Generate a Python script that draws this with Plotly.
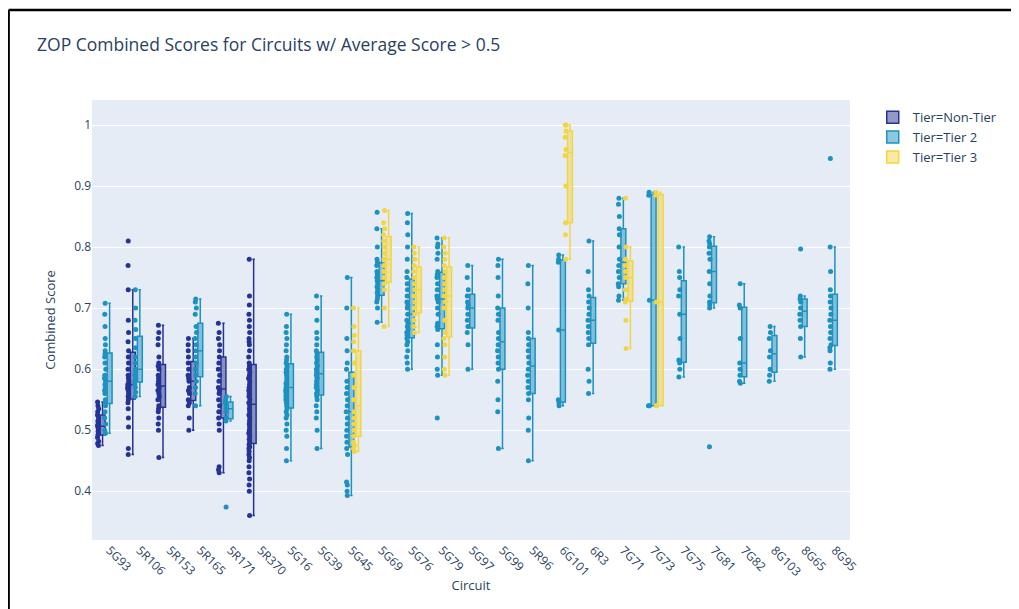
import plotly.graph_objects as go

circuits = ["5G93", "5R106", "5R153", "5R165", "5R171", "5R370", "5G16", "5G39", "5G45",
            "5G69", "5G76", "5G79", "5G97", "5G99", "5R96", "6G101", "6R3", "7G71", "7G73",
            "7G75", "7G81", "7G82", "8G103", "8G65", "8G95"]

tiers = ["Non-Tier", "Tier 2", "Tier 3"]
tier_colors = {"Non-Tier": "#253494", "Tier 2": "#1d91c0", "Tier 3": "#f2d544"}

non_tier = {
    "5G93": [0.475, 0.478, 0.482, 0.488, 0.492, 0.495, 0.498, 0.502, 0.505, 0.508, 0.512, 0.515,
             0.52, 0.525, 0.53, 0.535, 0.54, 0.546],
    "5R106": [0.46, 0.47, 0.505, 0.52, 0.535, 0.545, 0.55, 0.555, 0.56, 0.565, 0.568, 0.57, 0.572,
              0.575, 0.58, 0.585, 0.59, 0.6, 0.61, 0.62, 0.63, 0.645, 0.66, 0.68, 0.73, 0.77, 0.81],
    "5R153": [0.455, 0.5, 0.51, 0.52, 0.53, 0.535, 0.54, 0.55, 0.555, 0.56, 0.565, 0.57, 0.575,
              0.58, 0.585, 0.59, 0.6, 0.605, 0.61, 0.62, 0.64, 0.65, 0.66, 0.672],
    "5R165": [0.5, 0.52, 0.54, 0.545, 0.55, 0.56, 0.565, 0.57, 0.58, 0.585, 0.59, 0.6, 0.61, 0.62,
              0.63, 0.64, 0.65],
    "5R171": [0.43, 0.435, 0.44, 0.5, 0.51, 0.52, 0.53, 0.54, 0.55, 0.56, 0.565, 0.57, 0.58, 0.59,
              0.6, 0.61, 0.62, 0.63, 0.64, 0.65, 0.66, 0.675],
    "5R370": [0.36, 0.40, 0.41, 0.42, 0.43, 0.44, 0.45, 0.455, 0.46, 0.465, 0.47, 0.473, 0.476,
              0.48, 0.485, 0.49, 0.495, 0.5, 0.505, 0.51, 0.515, 0.52, 0.525, 0.53, 0.535, 0.54,
              0.545, 0.55, 0.555, 0.56, 0.565, 0.57, 0.575, 0.58, 0.585, 0.59, 0.595, 0.6, 0.605,
              0.61, 0.62, 0.63, 0.64, 0.645, 0.65, 0.66, 0.67, 0.68, 0.69, 0.705, 0.72, 0.78],
}

tier_2 = {
    "5G93": [0.495, 0.5, 0.51, 0.52, 0.53, 0.54, 0.545, 0.55, 0.56, 0.565, 0.57, 0.575, 0.58,
             0.585, 0.59, 0.6, 0.61, 0.62, 0.625, 0.63, 0.64, 0.65, 0.67, 0.69, 0.708],
    "5R106": [0.555, 0.562, 0.57, 0.575, 0.58, 0.585, 0.59, 0.595, 0.6, 0.61, 0.62, 0.635, 0.65,
              0.665, 0.68, 0.7, 0.73],
    "5R165": [0.54, 0.56, 0.57, 0.58, 0.59, 0.6, 0.61, 0.62, 0.63, 0.64, 0.65, 0.66, 0.67, 0.69,
              0.7, 0.71, 0.715],
    "5R171": [0.374, 0.515, 0.52, 0.53, 0.535, 0.54, 0.545, 0.55, 0.555],
    "5G16": [0.45, 0.47, 0.49, 0.5, 0.51, 0.52, 0.525, 0.53, 0.535, 0.54, 0.545, 0.55, 0.553,
             0.556, 0.56, 0.563, 0.566, 0.57, 0.573, 0.576, 0.58, 0.585, 0.59, 0.595, 0.6, 0.605,
             0.61, 0.615, 0.62, 0.63, 0.64, 0.65, 0.66, 0.67, 0.69],
    "5G39": [0.47, 0.5, 0.52, 0.53, 0.54, 0.55, 0.555, 0.56, 0.565, 0.57, 0.575, 0.58, 0.585,
             0.59, 0.595, 0.6, 0.605, 0.61, 0.615, 0.62, 0.625, 0.63, 0.64, 0.65, 0.66, 0.68,
             0.7, 0.72],
    "5G45": [0.393, 0.4, 0.41, 0.415, 0.46, 0.47, 0.48, 0.49, 0.5, 0.51, 0.52, 0.53, 0.54, 0.55,
             0.56, 0.57, 0.58, 0.6, 0.61, 0.63, 0.65, 0.7, 0.75],
    "5G69": [0.677, 0.7, 0.71, 0.715, 0.72, 0.725, 0.73, 0.735, 0.74, 0.745, 0.75, 0.755, 0.76,
             0.77, 0.775, 0.78, 0.8, 0.83, 0.857],
    "5G76": [0.6, 0.61, 0.62, 0.63, 0.64, 0.645, 0.65, 0.655, 0.66, 0.665, 0.67, 0.675, 0.68,
             0.69, 0.7, 0.705, 0.71, 0.72, 0.73, 0.74, 0.75, 0.76, 0.78, 0.8, 0.82, 0.84, 0.855],
    "5G79": [0.52, 0.59, 0.6, 0.62, 0.64, 0.665, 0.67, 0.675, 0.69, 0.7, 0.71, 0.715, 0.72, 0.73,
             0.74, 0.75, 0.755, 0.76, 0.78, 0.79, 0.8, 0.805, 0.815],
    "5G97": [0.6, 0.64, 0.66, 0.67, 0.68, 0.69, 0.7, 0.705, 0.71, 0.72, 0.73, 0.75, 0.77],
    "5G99": [0.47, 0.53, 0.55, 0.58, 0.6, 0.61, 0.62, 0.63, 0.64, 0.65, 0.66, 0.68, 0.69, 0.7,
             0.72, 0.75, 0.77, 0.78],
    "5R96": [0.45, 0.5, 0.52, 0.55, 0.56, 0.57, 0.58, 0.59, 0.6, 0.61, 0.62, 0.63, 0.64, 0.65,
             0.66, 0.7, 0.74, 0.77],
    "6G101": [0.54, 0.545, 0.55, 0.664, 0.775, 0.78, 0.787],
    "6R3": [0.56, 0.58, 0.6, 0.64, 0.65, 0.66, 0.67, 0.68, 0.69, 0.7, 0.71, 0.72, 0.73, 0.76, 0.81],
    "7G71": [0.713, 0.72, 0.735, 0.74, 0.75, 0.76, 0.77, 0.78, 0.8, 0.82, 0.83, 0.85, 0.87, 0.88],
    "7G73": [0.54, 0.54, 0.713, 0.885, 0.89],
    "7G75": [0.587, 0.6, 0.61, 0.615, 0.65, 0.69, 0.72, 0.73, 0.75, 0.76, 0.8],
    "7G81": [0.473, 0.7, 0.705, 0.71, 0.72, 0.74, 0.76, 0.78, 0.79, 0.8, 0.805, 0.81, 0.817],
    "7G82": [0.577, 0.58, 0.59, 0.6, 0.61, 0.65, 0.7, 0.705, 0.74],
    "8G103": [0.58, 0.59, 0.6, 0.62, 0.63, 0.65, 0.66, 0.67],
    "8G65": [0.62, 0.65, 0.67, 0.68, 0.69, 0.7, 0.71, 0.715, 0.72, 0.797],
    "8G95": [0.6, 0.61, 0.63, 0.635, 0.64, 0.65, 0.66, 0.67, 0.68, 0.69, 0.7, 0.71, 0.72, 0.73,
             0.76, 0.8, 0.945],
}

tier_3 = {
    "5G45": [0.465, 0.47, 0.475, 0.48, 0.49, 0.5, 0.51, 0.52, 0.53, 0.55, 0.57, 0.59, 0.61, 0.63,
             0.645, 0.655, 0.67, 0.7],
    "5G69": [0.67, 0.7, 0.73, 0.74, 0.75, 0.76, 0.77, 0.78, 0.79, 0.8, 0.81, 0.82, 0.83, 0.84, 0.86],
    "5G76": [0.66, 0.67, 0.68, 0.69, 0.7, 0.71, 0.72, 0.73, 0.74, 0.75, 0.76, 0.77, 0.78, 0.79, 0.8],
    "5G79": [0.59, 0.6, 0.62, 0.64, 0.65, 0.66, 0.68, 0.7, 0.71, 0.72, 0.73, 0.74, 0.75, 0.76,
             0.77, 0.78, 0.79, 0.8, 0.815],
    "6G101": [0.78, 0.82, 0.84, 0.9, 0.95, 0.96, 0.98, 0.99, 1.0, 1.0],
    "7G71": [0.634, 0.68, 0.71, 0.715, 0.73, 0.75, 0.76, 0.77, 0.78, 0.8, 0.88],
    "7G73": [0.54, 0.54, 0.71, 0.885, 0.89],
}

tier_data = {"Non-Tier": non_tier, "Tier 2": tier_2, "Tier 3": tier_3}

fig = go.Figure()
for tier in tiers:
    xs, ys = [], []
    for c in circuits:
        for v in tier_data[tier].get(c, []):
            xs.append(c)
            ys.append(v)
    fig.add_trace(go.Box(
        x=xs, y=ys, name="Tier=" + tier,
        boxpoints="all", jitter=0.3, pointpos=-1.8,
        marker=dict(color=tier_colors[tier], size=5),
        line=dict(color=tier_colors[tier], width=1.5),
        offsetgroup=tier, alignmentgroup="a",
    ))

# screenshot frame lines (page has an 8px body margin)
fig.add_shape(type="line", xref="paper", yref="paper", x0=-0.11, x1=1.3, y0=1.2045, y1=1.2045,
              line=dict(color="black", width=2.5))
fig.add_shape(type="line", xref="paper", yref="paper", x0=-0.11, x1=-0.11, y0=-0.2, y1=1.2045,
              line=dict(color="black", width=2.5))

fig.update_layout(
    width=1011, height=601,
    template="plotly",
    boxmode="group",
    margin=dict(l=84, r=169, t=92, b=69, autoexpand=False),
    font=dict(family="Open Sans, verdana, arial, sans-serif", size=12, color="#2a3f5f"),
    title=dict(text="ZOP Combined Scores for Circuits w/ Average Score > 0.5",
               x=0.0287, xanchor="left", xref="container",
               y=0.938, yanchor="middle", yref="container",
               font=dict(size=17.5, color="#2a3f5f")),
    legend=dict(x=1.03, y=0.995, yanchor="top", font=dict(size=13)),
    xaxis=dict(title=dict(text="Circuit", font=dict(size=13), standoff=2), tickangle=45,
               categoryorder="array", categoryarray=circuits, tickfont=dict(size=12),
               automargin=False),
    yaxis=dict(title=dict(text="Combined Score", font=dict(size=13)), range=[0.32, 1.041],
               dtick=0.1, tickfont=dict(size=12), automargin=False),
    showlegend=True,
)

fig.write_html("out.html")
